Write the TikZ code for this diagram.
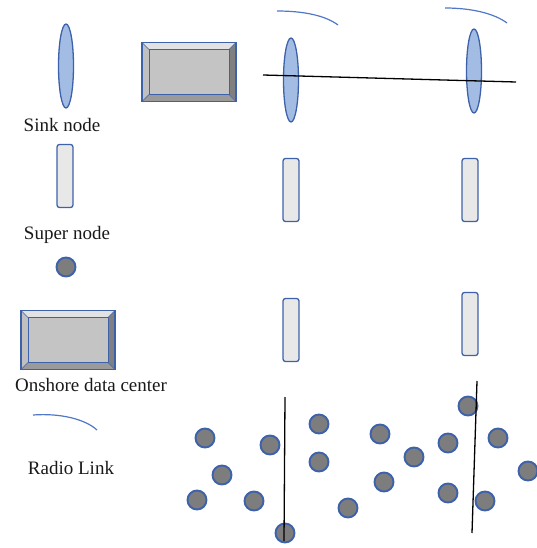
\documentclass[tikz,border=0pt]{standalone}
\usepackage{fontspec}
\setmainfont{Liberation Serif}
\usetikzlibrary{shapes.geometric}
\definecolor{edgeblue}{RGB}{62,98,170}
\definecolor{linkblue}{RGB}{80,120,200}
\definecolor{sinkfill}{RGB}{162,188,228}
\definecolor{superfill}{RGB}{232,232,232}
\definecolor{sensorfill}{RGB}{125,125,125}
\definecolor{bevmid}{RGB}{196,196,196}
\definecolor{bevlight}{RGB}{226,226,226}
\definecolor{bevdark}{RGB}{128,128,128}

\begin{document}
\begin{tikzpicture}[x=1pt,y=-1pt]
\tikzstyle{sink}=[ellipse,draw=edgeblue,fill=sinkfill,line width=1.3pt,inner sep=0pt,minimum width=15pt,minimum height=84pt]
\tikzstyle{super}=[rectangle,rounded corners=2.5pt,draw=edgeblue,fill=superfill,line width=1.3pt,inner sep=0pt,minimum width=16pt,minimum height=63pt]
\tikzstyle{sensor}=[circle,draw=edgeblue,fill=sensorfill,line width=1.9pt,inner sep=0pt,minimum size=19pt]
\tikzstyle{legendtext}=[inner sep=0pt,text=black!90,font=\fontsize{19}{22}\selectfont]
\tikzstyle{link}=[linkblue,line width=1.2pt]
\tikzstyle{wire}=[black,line width=1.3pt]
\tikzstyle{datacenter}=[rectangle,draw=edgeblue,fill=bevmid,line width=1.2pt,inner sep=0pt,minimum width=94pt,minimum height=59pt,
  path picture={
    \fill[bevlight] (path picture bounding box.north west) -- (path picture bounding box.north east)
      -- ([shift={(-7pt,-7pt)}]path picture bounding box.north east) -- ([shift={(7pt,-7pt)}]path picture bounding box.north west) -- cycle;
    \fill[bevlight!85!black] (path picture bounding box.north west) -- (path picture bounding box.south west)
      -- ([shift={(7pt,7pt)}]path picture bounding box.south west) -- ([shift={(7pt,-7pt)}]path picture bounding box.north west) -- cycle;
    \fill[bevdark] (path picture bounding box.north east) -- (path picture bounding box.south east)
      -- ([shift={(-7pt,7pt)}]path picture bounding box.south east) -- ([shift={(-7pt,-7pt)}]path picture bounding box.north east) -- cycle;
    \fill[bevdark!80!white] (path picture bounding box.south west) -- (path picture bounding box.south east)
      -- ([shift={(-7pt,7pt)}]path picture bounding box.south east) -- ([shift={(7pt,7pt)}]path picture bounding box.south west) -- cycle;
    \draw[edgeblue,line width=0.8pt] ([shift={(7pt,7pt)}]path picture bounding box.south west) rectangle ([shift={(-7pt,-7pt)}]path picture bounding box.north east);
    \draw[edgeblue,line width=0.6pt] (path picture bounding box.south west) -- ([shift={(7pt,7pt)}]path picture bounding box.south west)
      (path picture bounding box.north west) -- ([shift={(7pt,-7pt)}]path picture bounding box.north west)
      (path picture bounding box.south east) -- ([shift={(-7pt,7pt)}]path picture bounding box.south east)
      (path picture bounding box.north east) -- ([shift={(-7pt,-7pt)}]path picture bounding box.north east);
  }]

\useasboundingbox (0,0) rectangle (537,548);

% legend
\node[sink](s0) at (66,66){};
\node[legendtext](t1) at (62,125){Sink node};
\node[super](u0) at (65,176){};
\node[legendtext](t2) at (67,235){Super node};
\node[sensor](d0) at (66,267){};
\node[datacenter](c0) at (68,340){};
\node[legendtext](t3) at (91,385){Onshore data center};
\draw[link] (33,415) .. controls (60,413) and (85,419) .. (97,430);
\node[legendtext](t4) at (71,468){Radio Link};

% surface
\node[datacenter](c1) at (189,72){};
\node[sink](s1) at (291,80){};
\node[sink](s2) at (474,71){};
\draw[link] (277,11) .. controls (305,11) and (326,16) .. (338,25);
\draw[link] (445,8) .. controls (473,8) and (495,14) .. (507,23);
\coordinate (w1) at (263,75);
\coordinate (w2) at (516,82);
\draw[wire] (w1) -- (w2);

% super nodes
\node[super](u1) at (291,190){};
\node[super](u2) at (470,190){};
\node[super](u3) at (291,330){};
\node[super](u4) at (470,324){};

% sensors
\foreach \x/\y [count=\i] in {205/438,270/445,319/424,222/475,319/462,197/500,254/501,285/533,348/508,
  380/434,414/457,384/482,448/443,468/406,498/438,528/471,448/493,485/501}
  \node[sensor](d\i) at (\x,\y){};

\coordinate (v1) at (285,397);
\coordinate (v2) at (284,541);
\coordinate (v3) at (477,381);
\coordinate (v4) at (472,533);
\draw[wire] (v1) -- (v2);
\draw[wire] (v3) -- (v4);
\end{tikzpicture}
\end{document}
